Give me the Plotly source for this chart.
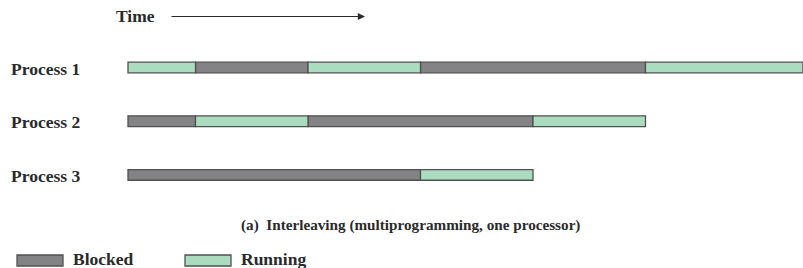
import plotly.graph_objects as go

# ---- data ----
processes = ["Process 1", "Process 2", "Process 3"]
p1_states = ["Running", "Blocked", "Running", "Blocked", "Running"]
p1_starts = [0, 3, 8, 13, 23]
p1_ends = [3, 8, 13, 23, 30]
p2_states = ["Blocked", "Running", "Blocked", "Running"]
p2_starts = [0, 3, 8, 18]
p2_ends = [3, 8, 18, 23]
p3_states = ["Blocked", "Running"]
p3_starts = [0, 13]
p3_ends = [13, 18]
states = ["Blocked", "Running"]
caption = "(a)  Interleaving (multiprogramming, one processor)"
axis_label = "Time"

colors = {"Blocked": "#838385", "Running": "#abdcbf"}
edge = "#505050"
font_fam = "Liberation Serif"
txt_col = "#2a2a2a"

rows = [(p1_states, p1_starts, p1_ends), (p2_states, p2_starts, p2_ends), (p3_states, p3_starts, p3_ends)]

W, H = 803, 268
fig = go.Figure()
for st in states:
    ys, xs, bases = [], [], []
    for i, (sts, s0, s1) in enumerate(rows):
        for s, a, b in zip(sts, s0, s1):
            if s == st:
                ys.append(i + 1)
                xs.append(b - a)
                bases.append(a)
    fig.add_trace(go.Bar(
        orientation="h", y=ys, x=xs, base=bases, width=0.2,
        marker=dict(color=colors[st], line=dict(color=edge, width=1.3)),
        name=st, showlegend=False, hoverinfo="skip"))

# x mapping: t=0 at px 128, 22.5 px per unit
x0 = -128 / 22.5
x1 = (W - 128) / 22.5
# y mapping: y=1 at px 67.5, 53.7 px per unit
ytop = 1 - 67.5 / 53.7
ybot = 1 + (H - 67.5) / 53.7

ann = []
for i, name in enumerate(processes):
    ann.append(dict(text="<b>" + name + "</b>", xref="paper", x=9 / W, xanchor="left", yref="y", y=i + 1,
                    yanchor="middle", yshift=-1, showarrow=False,
                    font=dict(family=font_fam, size=17.5, color=txt_col)))
ann.append(dict(text="<b>" + axis_label + "</b>", xref="paper", x=114 / W, xanchor="left",
                yref="paper", y=1 - 16.5 / H, yanchor="middle", showarrow=False,
                font=dict(family=font_fam, size=17.5, color=txt_col)))
ann.append(dict(text="", xref="paper", x=365 / W, yref="paper", y=1 - 16.5 / H,
                ax=-195, ay=0, showarrow=True, arrowhead=2, arrowsize=1.2, arrowwidth=1.2,
                arrowcolor=txt_col))
ann.append(dict(text="<b>" + caption + "</b>", xref="paper", x=410 / W, xanchor="center",
                yref="paper", y=1 - 225 / H, yanchor="middle", showarrow=False,
                font=dict(family=font_fam, size=15.2, color=txt_col)))

shapes = []
leg_box = {"Blocked": (17, 63), "Running": (185, 231)}
for st in states:
    bx0, bx1 = leg_box[st]
    shapes.append(dict(type="rect", xref="paper", yref="paper",
                       x0=bx0 / W, x1=bx1 / W, y0=1 - 266 / H, y1=1 - 255 / H,
                       fillcolor=colors[st], line=dict(color=edge, width=1.3)))
    ann.append(dict(text="<b>" + st + "</b>", xref="paper", x=(bx1 + 8) / W, xanchor="left",
                    yref="paper", y=1 - 259 / H, yanchor="middle", showarrow=False,
                    font=dict(family=font_fam, size=17.5, color=txt_col)))

fig.update_layout(
    width=W, height=H, margin=dict(l=0, r=0, t=0, b=0),
    paper_bgcolor="white", plot_bgcolor="white",
    xaxis=dict(range=[x0, x1], visible=False, fixedrange=True),
    yaxis=dict(range=[ybot, ytop], visible=False, fixedrange=True),
    barmode="overlay", annotations=ann, shapes=shapes, showlegend=False)

fig.write_html("out.html", config={"displayModeBar": False},
               post_script="document.body.style.margin='0';document.body.style.overflow='hidden';")
